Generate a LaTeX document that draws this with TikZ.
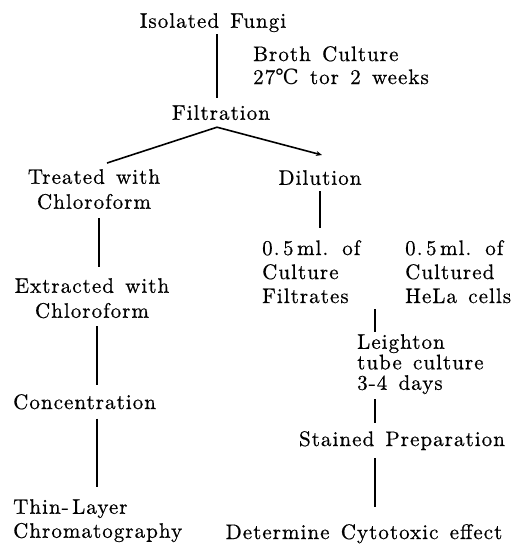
\documentclass[tikz,border=0pt]{standalone}
\usepackage{fontspec}
\setmainfont{lmroman10-regular.otf}[LetterSpace=5,WordSpace=1.4,FakeBold=0.6]
\newfontfamily\degfont{DejaVu Serif}
\usetikzlibrary{calc,arrows.meta}
\begin{document}
\begin{tikzpicture}[x=1pt,y=-1pt,
  every node/.style={inner sep=0pt,font=\fontsize{21}{25}\selectfont},
  lbl/.style={anchor=north,align=center},
  lblw/.style={anchor=north west,align=left},
  conn/.style={line width=1.6pt,line cap=butt}]
\useasboundingbox[fill=white] (0,0) rectangle (528,555);
% nodes
\node[lbl] (iso) at (213,13) {Isolated Fungi};
\node[lblw,font=\fontsize{21}{23}\selectfont] (broth) at (253,46) {Broth Culture\\27{\degfont ℃} tor 2 weeks};
\node[lbl] (filt) at (221,105) {Filtration};
\node[lbl] (treated) at (94,169) {Treated with\\Chloroform};
\node[lbl] (extracted) at (92,278) {Extracted with\\Chloroform};
\node[lblw] (conc) at (13,394) {Concentration};
\node[lblw,font=\fontsize{21}{24}\selectfont] (thin) at (13,499) {Thin-\,Layer\\Chromatography};
\node[lbl] (dil) at (320,170) {Dilution};
\node[lblw,font=\fontsize{21}{24}\selectfont] (cf) at (262,240) {0.\,5\,ml. of\\Culture\\Filtrates};
\node[lblw,font=\fontsize{21}{24}\selectfont] (hela) at (405,240) {0.\,5\,ml. of\\Cultured\\HeLa cells};
\node[lblw,font=\fontsize{21}{20.5}\selectfont] (leigh) at (357,334) {Leighton\\tube culture\\3-4 days};
\node[lbl] (stained) at (402,431) {Stained Preparation};
\node[lbl] (det) at (364,524) {Determine Cytotoxic effect};
% connectors
\coordinate (mid) at ($(hela.south west)+(-30,0)$);
\draw[conn] ($(iso.south)+(4,2)$) -- ($(iso.south |- filt.north)+(4,-7)$);
\draw[conn] ($(filt.south)+(-4,7)$) -- ($(treated.north)+(13,-6)$);
\draw[conn,-{Stealth[length=6pt,width=5pt]}] ($(filt.south)+(-4,7)$) -- ($(dil.north)+(2,-15)$);
\draw[conn] ($(treated.south)+(5,9)$) -- ($(treated.south |- extracted.north)+(5,-11)$);
\draw[conn] ($(extracted.south)+(5,8)$) -- ($(extracted.south |- conc.north)+(5,-9)$);
\draw[conn] ($(extracted.south |- conc.south)+(5,9)$) -- ($(extracted.south |- thin.north)+(5,-12)$);
\draw[conn] ($(dil.south)+(0,6)$) -- ($(dil.south |- cf.north)+(0,-12)$);
\draw[conn] ($(mid)+(0,6)$) -- ($(mid |- leigh.north)+(0,-2)$);
\draw[conn] ($(mid |- leigh.south)+(0,5)$) -- ($(mid |- stained.north)+(0,-8)$);
\draw[conn] ($(mid |- stained.south)+(0,8)$) -- ($(mid |- det.north)+(0,-17)$);
\end{tikzpicture}
\end{document}
